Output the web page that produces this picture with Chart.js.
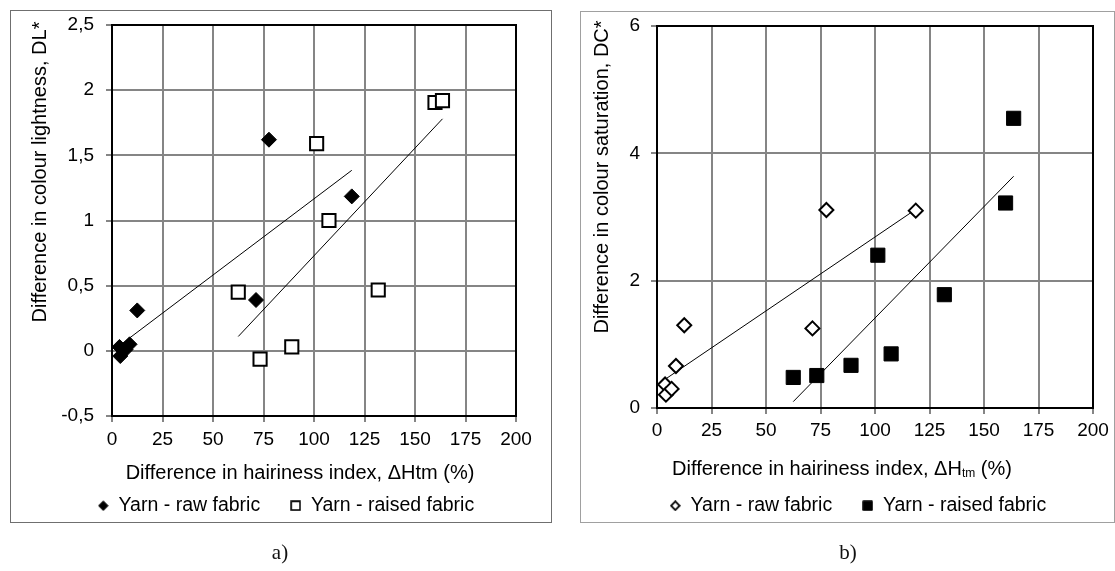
<!DOCTYPE html>
<html><head><meta charset="utf-8">
<script src="https://cdn.jsdelivr.net/npm/chart.js@4"></script>
<style>
html,body{margin:0;padding:0;background:#fff;width:1115px;height:571px;overflow:hidden;}
.wrap{position:absolute;top:0;height:571px;}
#w1{left:0;width:557px;}
#w2{left:557px;width:558px;}
.box{position:absolute;border:1px solid #6f6f6f;pointer-events:none;}
#b1{left:10px;top:10px;width:540px;height:511px;}
#b2{left:580px;top:11px;width:533px;height:510px;border-color:#a0a0a0;}
.lab{position:absolute;font-family:"Liberation Serif","DejaVu Serif",serif;font-size:21px;top:540px;width:60px;text-align:center;color:#111;}
</style></head>
<body>
<div class="wrap" id="w1"><canvas id="c1"></canvas></div>
<div class="wrap" id="w2"><canvas id="c2"></canvas></div>
<div class="box" id="b1"></div>
<div class="box" id="b2"></div>
<div class="lab" style="left:250px">a)</div>
<div class="lab" style="left:818px">b)</div>
<script>
// ---- data ----
const xTickLabels = ['0','25','50','75','100','125','150','175','200'];
const yTickLabelsA = ['-0,5','0','0,5','1','1,5','2','2,5'];
const yTickLabelsB = ['0','2','4','6'];
const seriesNames = ['Yarn - raw fabric','Yarn - raised fabric'];

const xRaw    = [3.7, 4.1, 6.7, 8.7, 12.5, 71.3, 77.7, 118.7];
const xRaised = [62.5, 73.3, 89.0, 101.3, 107.4, 131.8, 159.9, 163.6];

const dlRaw    = [0.03, -0.04, 0.01, 0.05, 0.31, 0.39, 1.62, 1.185];
const dlRaised = [0.45, -0.064, 0.03, 1.59, 1.0, 0.467, 1.905, 1.92];
const dcRaw    = [0.37, 0.21, 0.30, 0.66, 1.30, 1.25, 3.11, 3.10];
const dcRaised = [0.48, 0.51, 0.67, 2.40, 0.85, 1.78, 3.22, 4.55];

const trendXRaw    = [3.7, 118.7];
const trendXRaised = [62.5, 163.6];
const trendDLRaw    = [0.04, 1.385];
const trendDLRaised = [0.11, 1.78];
const trendDCRaw    = [0.45, 3.12];
const trendDCRaised = [0.10, 3.64];

const titleXA = ['Difference in hairiness index, ΔHtm (%)'];
const titleXB = ['Difference in hairiness index, ΔH', 'tm', ' (%)'];
const titleYA = 'Difference in colour lightness, DL*';
const titleYB = 'Difference in colour saturation, DC*';

// ---- helpers ----
const FAM = "'Liberation Sans', Arial, sans-serif";
Chart.defaults.font.family = FAM;
Chart.defaults.color = '#000';
const pts = (xs, ys) => xs.map((x, i) => ({x: x, y: ys[i]}));

function markerImg(shape, fill, size, lw) {
  const c = document.createElement('canvas');
  c.width = size; c.height = size;
  const g = c.getContext('2d');
  const h = size / 2, m = lw / 2 + 0.3;
  g.beginPath();
  if (shape === 'diamond') {
    g.moveTo(h, m); g.lineTo(size - m, h); g.lineTo(h, size - m); g.lineTo(m, h); g.closePath();
  } else {
    g.rect(m, m, size - 2 * m, size - 2 * m);
  }
  g.fillStyle = fill; g.fill();
  g.strokeStyle = '#000'; g.lineWidth = lw; g.stroke();
  return c;
}

const frame = {
  id: 'frame',
  beforeDatasetsDraw(chart) {
    const {ctx, chartArea: a} = chart;
    ctx.save();
    ctx.strokeStyle = '#000';
    ctx.lineWidth = 2;
    ctx.strokeRect(a.left, a.top, a.right - a.left, a.bottom - a.top);
    ctx.restore();
  }
};

const axisTitles = {
  id: 'axisTitles',
  afterDraw(chart, args, o) {
    const ctx = chart.ctx;
    ctx.save();
    ctx.fillStyle = '#000';
    ctx.textBaseline = 'middle';
    ctx.textAlign = 'left';
    const main = o.size + 'px ' + FAM, sub = o.subSize + 'px ' + FAM;
    let w = 0;
    o.xParts.forEach((t, i) => { ctx.font = (i % 2 ? sub : main); w += ctx.measureText(t).width; });
    let x = o.xCx - w / 2;
    o.xParts.forEach((t, i) => {
      ctx.font = (i % 2 ? sub : main);
      ctx.fillText(t, x, o.xCy + (i % 2 ? 5 : 0));
      x += ctx.measureText(t).width;
    });
    ctx.font = main;
    ctx.translate(o.yCx, o.yCy);
    ctx.rotate(-Math.PI / 2);
    ctx.textAlign = 'center';
    ctx.fillText(o.yText, 0, 0);
    ctx.restore();
  }
};

function makeChart(id, cfg) {
  const scatterA = {
    label: seriesNames[0], data: pts(xRaw, cfg.raw),
    pointStyle: 'rectRot', pointRadius: cfg.rawR, pointHoverRadius: cfg.rawR,
    backgroundColor: cfg.rawFill, borderColor: '#000', borderWidth: cfg.rawBW, showLine: false
  };
  const scatterB = {
    label: seriesNames[1], data: pts(xRaised, cfg.raised),
    pointStyle: 'rect', pointRadius: cfg.sqR, pointHoverRadius: cfg.sqR,
    backgroundColor: cfg.sqFill, borderColor: '#000', borderWidth: cfg.sqBW, showLine: false
  };
  const t1 = {label: 'trend1', isTrend: true, data: pts(trendXRaw, cfg.tRaw), showLine: true,
    pointRadius: 0, borderColor: '#000', borderWidth: 1, fill: false};
  const t2 = {label: 'trend2', isTrend: true, data: pts(trendXRaised, cfg.tRaised), showLine: true,
    pointRadius: 0, borderColor: '#000', borderWidth: 1, fill: false};
  return new Chart(document.getElementById(id), {
    type: 'scatter',
    data: {datasets: [scatterA, scatterB, t1, t2]},
    options: {
      responsive: true, maintainAspectRatio: false, animation: false, devicePixelRatio: 1,
      layout: {padding: cfg.pad},
      plugins: {
        tooltip: {enabled: false},
        legend: {
          position: 'bottom',
          labels: {
            usePointStyle: true, boxWidth: 11, boxHeight: 11, padding: 30,
            font: {size: 19.5}, color: '#000',
            generateLabels: chart => {
              const items = Chart.defaults.plugins.legend.labels.generateLabels(chart);
              return items.filter(it => !chart.data.datasets[it.datasetIndex].isTrend)
                .map(it => { it.pointStyle = cfg.legendImgs[it.datasetIndex]; return it; });
            }
          }
        },
        axisTitles: cfg.titles
      },
      scales: {
        x: {
          type: 'linear', min: 0, max: 200,
          ticks: {stepSize: 25, autoSkip: false, maxRotation: 0, padding: cfg.xPad, font: {size: 19}, color: '#000',
            callback: (v, i) => xTickLabels[i]},
          grid: {color: '#858585', lineWidth: 2, tickLength: 6, drawTicks: true},
          border: {display: true, color: '#000', width: 2},
          afterFit: s => { s.height = cfg.xH; }
        },
        y: {
          type: 'linear', min: cfg.yMin, max: cfg.yMax,
          ticks: {stepSize: cfg.yStep, padding: cfg.yPad, font: {size: 19}, color: '#000',
            callback: (v, i) => cfg.yLabels[i]},
          grid: {color: '#858585', lineWidth: 2, tickLength: 6, drawTicks: true},
          border: {display: true, color: '#000', width: 2},
          afterFit: s => { s.width = cfg.yW; }
        }
      }
    },
    plugins: [frame, axisTitles]
  });
}

makeChart('c1', {
  raw: dlRaw, raised: dlRaised, tRaw: trendDLRaw, tRaised: trendDLRaised,
  rawR: 7.5, rawFill: '#000', rawBW: 1, sqR: 9.3, sqFill: '#fff', sqBW: 2,
  legendImgs: [markerImg('diamond', '#000', 11, 1), markerImg('square', '#fff', 11, 1.6)],
  yMin: -0.5, yMax: 2.5, yStep: 0.5, yLabels: yTickLabelsA,
  pad: {left: 56, right: 41, top: 25, bottom: 45.5}, xH: 50, yW: 56, xPad: 6, yPad: 12,
  titles: {size: 20, subSize: 12, xParts: titleXA, xCx: 300, xCy: 473, yText: titleYA, yCx: 40, yCy: 172}
});

makeChart('c2', {
  raw: dcRaw, raised: dcRaised, tRaw: trendDCRaw, tRaised: trendDCRaised,
  rawR: 7, rawFill: '#fff', rawBW: 2, sqR: 10, sqFill: '#000', sqBW: 1,
  legendImgs: [markerImg('diamond', '#fff', 11, 1.8), markerImg('square', '#000', 11, 1)],
  yMin: 0, yMax: 6, yStep: 2, yLabels: yTickLabelsB,
  pad: {left: 66, right: 22, top: 26, bottom: 45.5}, xH: 58, yW: 34, xPad: 5, yPad: 11,
  titles: {size: 20, subSize: 12, xParts: titleXB, xCx: 285, xCy: 469, yText: titleYB, yCx: 45, yCy: 177}
});
</script>
</body></html>
